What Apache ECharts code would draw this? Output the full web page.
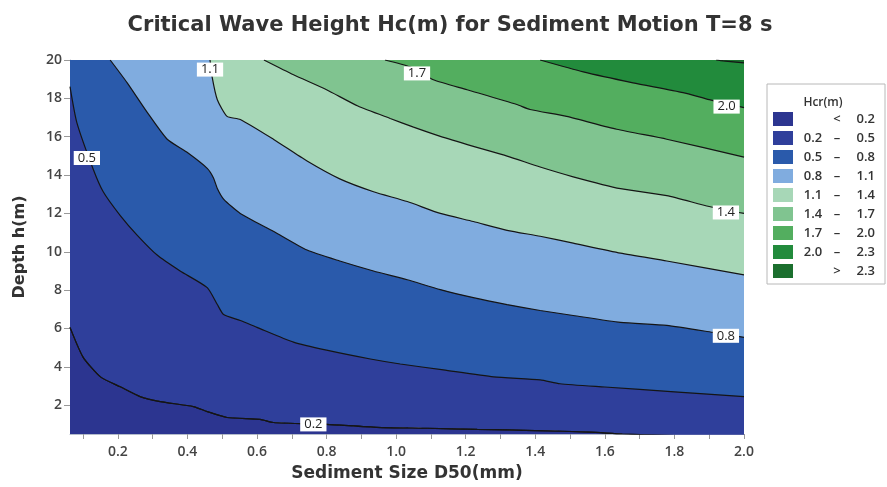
<!DOCTYPE html>
<html>
<head>
<meta charset="utf-8">
<script src="https://cdn.jsdelivr.net/npm/echarts@6/dist/echarts.min.js"></script>
<style>
  html, body { margin: 0; padding: 0; background: #fff; }
  #chart { width: 887px; height: 487px; }
</style>
</head>
<body>
<div id="chart"></div>
<script>
// axis ranges
var X_MIN = 0.0625, X_MAX = 2.0, Y_MIN = 0.5, Y_MAX = 20;

var xTickValues = [0.1, 0.2, 0.3, 0.4, 0.5, 0.6, 0.7, 0.8, 0.9, 1.0, 1.1, 1.2, 1.3, 1.4, 1.5, 1.6, 1.7, 1.8, 1.9, 2.0];
var xLabelValues = [0.2, 0.4, 0.6, 0.8, 1.0, 1.2, 1.4, 1.6, 1.8, 2.0];
var yLabelValues = [2, 4, 6, 8, 10, 12, 14, 16, 18, 20];

// contour lines: [D50, depth]
var c02 = [[0.0625, 6.06], [0.1, 4.51], [0.15, 3.48], [0.207, 2.96], [0.264, 2.45], [0.322, 2.19], [0.417, 1.93],
  [0.457, 1.67], [0.514, 1.36], [0.609, 1.26], [0.647, 1.1], [0.8, 1.0], [0.945, 0.85], [1.089, 0.8],
  [1.233, 0.74], [1.4, 0.68], [1.558, 0.6], [1.65, 0.5], [1.8, 0.42], [2.0, 0.38]];
var c05 = [[0.0625, 18.61], [0.082, 16.75], [0.129, 14.32], [0.158, 13.13], [0.207, 11.89], [0.256, 10.86],
  [0.313, 9.83], [0.379, 9.0], [0.457, 8.13], [0.486, 7.25], [0.504, 6.73], [0.552, 6.42], [0.6, 6.06],
  [0.705, 5.29], [0.8, 4.87], [0.926, 4.41], [1.012, 4.15], [1.136, 3.84], [1.28, 3.48], [1.414, 3.32],
  [1.471, 3.12], [1.6, 2.95], [1.8, 2.7], [2.0, 2.45]];
var c08 = [[0.178, 20.0], [0.227, 18.81], [0.285, 17.26], [0.342, 15.87], [0.398, 15.2], [0.457, 14.35],
  [0.475, 13.85], [0.486, 13.3], [0.504, 12.75], [0.552, 12.0], [0.647, 11.07], [0.744, 10.09], [0.838, 9.52],
  [0.935, 9.0], [1.032, 8.54], [1.127, 8.03], [1.222, 7.61], [1.319, 7.25], [1.414, 6.94], [1.509, 6.68],
  [1.645, 6.32], [1.778, 6.16], [1.91, 5.8], [2.0, 5.54]];
var c11 = [[0.465, 20.0], [0.471, 19.12], [0.486, 17.93], [0.514, 17.06], [0.552, 16.9], [0.647, 15.87],
  [0.744, 14.73], [0.838, 13.8], [0.935, 13.13], [1.032, 12.62], [1.127, 12.0], [1.222, 11.58], [1.319, 11.12],
  [1.414, 10.81], [1.509, 10.45], [1.645, 9.93], [1.778, 9.52], [2.0, 8.8]];
var c14 = [[0.62, 20.0], [0.705, 19.23], [0.8, 18.45], [0.89, 17.6], [0.983, 16.95], [1.05, 16.5],
  [1.127, 16.02], [1.222, 15.5], [1.319, 14.99], [1.414, 14.42], [1.509, 13.91], [1.645, 13.29],
  [1.778, 12.93], [1.9, 12.36], [2.0, 12.0]];
var c17 = [[0.968, 20.0], [1.04, 19.64], [1.107, 18.97], [1.204, 18.45], [1.347, 17.68], [1.385, 17.42],
  [1.49, 17.06], [1.634, 16.39], [1.778, 15.87], [2.0, 14.94]];
var c20 = [[1.414, 20.0], [1.538, 19.38], [1.681, 18.81], [1.825, 18.3], [1.9, 17.93], [2.0, 17.52]];
var c23 = [[1.92, 20.0], [1.94, 19.95], [2.0, 19.85]];

// contour labels: [D50, depth, text]
var contourLabels = [[0.762, 1.0, '0.2'], [0.111, 14.89, '0.5'], [1.948, 5.62, '0.8'], [0.465, 19.5, '1.1'],
  [1.948, 12.05, '1.4'], [1.06, 19.3, '1.7'], [1.95, 17.57, '2.0']];

var bandNames = ['< 0.2', '0.2 – 0.5', '0.5 – 0.8', '0.8 – 1.1', '1.1 – 1.4', '1.4 – 1.7', '1.7 – 2.0', '2.0 – 2.3', '> 2.3'];
var bandColors = ['#2c3590', '#2f3f9b', '#2a5aab', '#80acdf', '#a7d7b7', '#80c490', '#53ae5f', '#228b3c', '#1b6f2e'];
// which contour bounds each band and on which side it lies
var bandContours = [c02, c02, c05, c08, c11, c14, c17, c20, c23];
var bandOrigins = ['start', 'end', 'end', 'end', 'end', 'end', 'end', 'end', 'end'];

var chart = echarts.init(document.getElementById('chart'));

var series = bandNames.map(function (name, i) {
    return {
        name: name,
        type: 'line',
        data: bandContours[i],
        color: bandColors[i],
        smooth: 0.2,
        showSymbol: false,
        symbol: 'none',
        silent: true,
        animation: false,
        lineStyle: { color: '#151515', width: 1.2 },
        areaStyle: { color: bandColors[i], opacity: 1, origin: bandOrigins[i] }
    };
});

series.push({
    type: 'scatter',
    data: contourLabels,
    symbolSize: 1,
    itemStyle: { color: '#ffffff', opacity: 1 },
    silent: true,
    animation: false,
    z: 5,
    label: {
        show: true,
        position: 'inside',
        opacity: 1,
        formatter: function (p) { return p.value[2]; },
        backgroundColor: '#ffffff',
        color: '#222',
        fontSize: 13,
        fontFamily: 'Open Sans',
        padding: [1, 4, 0, 4]
    },
    emphasis: { disabled: true }
});

var font = 'Open Sans';
var wideFont = 'DejaVu Sans';

chart.setOption({
    animation: false,
    title: [{
        text: 'Critical Wave Height Hc(m) for Sediment Motion T=8 s',
        left: 445,
        textAlign: 'center',
        top: 10,
        textStyle: { fontFamily: wideFont, fontSize: 21, fontWeight: 'bold', color: '#333' }
    }, {
        text: 'Hcr(m)',
        left: 818,
        textAlign: 'center',
        top: 92,
        textStyle: { fontFamily: font, fontSize: 12, fontWeight: 600, color: '#333' }
    }],
    grid: { left: 70, right: 143, top: 60, bottom: 50 },
    legend: {
        orient: 'vertical',
        left: 767,
        top: 84,
        selectedMode: false,
        padding: [28, 10, 6, 6],
        borderColor: '#b8b8b8',
        borderWidth: 1,
        itemWidth: 20,
        itemHeight: 14,
        itemGap: 5,
        data: bandNames.map(function (n, i) {
            return { name: n, icon: 'rect', itemStyle: { color: bandColors[i], borderWidth: 0 } };
        }),
        formatter: function (name) {
            var p = name.split(' ');
            if (p.length === 2) return '{a|}{b|' + p[0] + '}{c|' + p[1] + '}';
            return '{a|' + p[0] + '}{b|' + p[1] + '}{c|' + p[2] + '}';
        },
        textStyle: {
            fontFamily: font, fontSize: 13, fontWeight: 600, color: '#333',
            rich: {
                a: { width: 30, align: 'right', fontFamily: font, fontSize: 13, fontWeight: 600, color: '#333' },
                b: { width: 18, align: 'center', fontFamily: font, fontSize: 13, fontWeight: 600, color: '#333' },
                c: { width: 29, align: 'right', fontFamily: font, fontSize: 13, fontWeight: 600, color: '#333' }
            }
        }
    },
    xAxis: {
        type: 'value',
        min: X_MIN,
        max: X_MAX,
        name: 'Sediment Size D50(mm)',
        nameLocation: 'middle',
        nameGap: 31,
        nameTextStyle: { fontFamily: wideFont, fontSize: 17, fontWeight: 'bold', color: '#333' },
        axisLine: { show: true, lineStyle: { color: '#b4bccb', width: 1 } },
        axisTick: { show: true, length: 5, customValues: xTickValues, lineStyle: { color: '#999' } },
        axisLabel: {
            customValues: xLabelValues,
            margin: 11,
            fontFamily: font, fontSize: 14, fontWeight: 600, color: '#444',
            formatter: function (v) { return v.toFixed(1); }
        },
        splitLine: { show: false }
    },
    yAxis: {
        type: 'value',
        min: Y_MIN,
        max: Y_MAX,
        name: 'Depth h(m)',
        nameLocation: 'middle',
        nameGap: 42,
        nameTextStyle: { fontFamily: wideFont, fontSize: 16, fontWeight: 'bold', color: '#333' },
        axisLine: { show: true, lineStyle: { color: '#b4bccb', width: 1 } },
        axisTick: { show: true, length: 6, customValues: yLabelValues, lineStyle: { color: '#999' } },
        axisLabel: {
            customValues: yLabelValues,
            margin: 8,
            fontFamily: font, fontSize: 14, fontWeight: 600, color: '#444'
        },
        splitLine: { show: false }
    },
    series: series
});
</script>
</body>
</html>
